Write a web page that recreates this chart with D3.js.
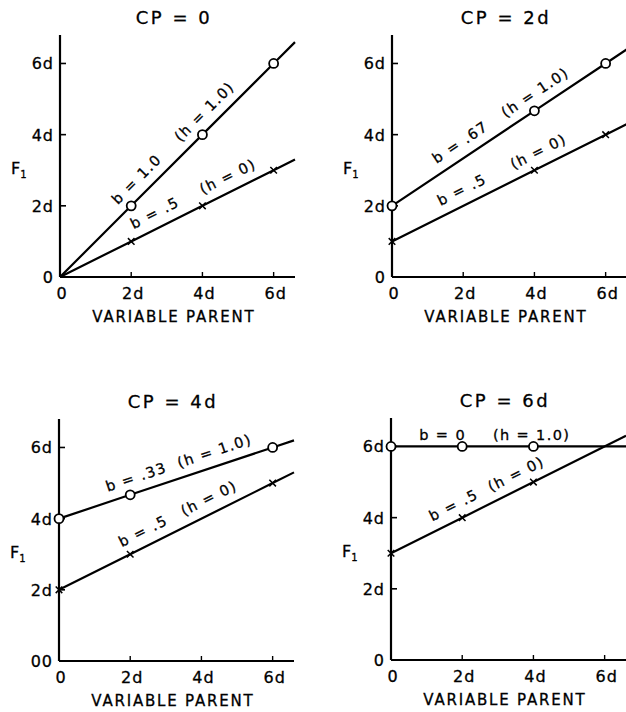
<!DOCTYPE html>
<html>
<head>
<meta charset="utf-8">
<script src="https://cdn.jsdelivr.net/npm/d3@7"></script>
<style>
  body { margin: 0; background: #fff; }
  text { font-family: "DejaVu Sans", sans-serif; fill: #000; stroke: #000; stroke-width: 0.3px; }
</style>
</head>
<body>
<div id="chart"></div>
<script>
// panel titles and the "CP" value of each panel
const titles = ["CP = 0", "CP = 2d", "CP = 4d", "CP = 6d"];
const xTicks = [0, 2, 4, 6];
const xTickLabels = ["0", "2d", "4d", "6d"];
const yTicks = [0, 2, 4, 6];
const yTickLabels = [["0", "2d", "4d", "6d"], ["0", "2d", "4d", "6d"], ["00", "2d", "4d", "6d"], ["0", "2d", "4d", "6d"]];

// line through the open circles (h = 1.0), [x, F1] in units of d
const hOneLines = [
  [[0, 0], [2, 2], [4, 4], [6, 6], [6.6, 6.6]],
  [[0, 2], [4, 4.67], [6, 6], [6.6, 6.4]],
  [[0, 4], [2, 4.67], [6, 6], [6.6, 6.2]],
  [[0, 6], [2, 6], [4, 6], [6.6, 6]]
];
// line through the crosses (h = 0)
const hZeroLines = [
  [[0, 0], [2, 1], [4, 2], [6, 3], [6.6, 3.3]],
  [[0, 1], [4, 3], [6, 4], [6.6, 4.3]],
  [[0, 2], [2, 3], [6, 5], [6.6, 5.3]],
  [[0, 3], [2, 4], [4, 5], [6.6, 6.3]]
];
// where the markers sit on each line
const circlePoints = [
  [[2, 2], [4, 4], [6, 6]],
  [[0, 2], [4, 4.67], [6, 6]],
  [[0, 4], [2, 4.67], [6, 6]],
  [[0, 6], [2, 6], [4, 6]]
];
const crossPoints = [
  [[2, 1], [4, 2], [6, 3]],
  [[0, 1], [4, 3], [6, 4]],
  [[0, 2], [2, 3], [6, 5]],
  [[0, 3], [2, 4], [4, 5]]
];
// line annotations
const hOneLabels = [["b = 1.0", "(h = 1.0)"], ["b = .67", "(h = 1.0)"], ["b = .33", "(h = 1.0)"], ["b = 0", "(h = 1.0)"]];
const hZeroLabels = [["b = .5", "(h = 0)"], ["b = .5", "(h = 0)"], ["b = .5", "(h = 0)"], ["b = .5", "(h = 0)"]];

// layout
const width = 626, height = 712;
const origins = [[60, 277], [392, 277], [59, 661], [391, 660]];
const plotW = 235, plotH = 242;
const xMax = 6.6, yMax = 6.8;
// label centres along the line (in x units)
const hOneLabelX = [[2.45, 4.35], [2.15, 4.25], [2.3, 4.5], [1.45, 3.95]];
const hZeroLabelX = [[2.85, 4.9], [2.15, 4.3], [2.55, 4.4], [1.95, 3.7]];

const svg = d3.select("#chart").append("svg")
  .attr("width", width)
  .attr("height", height);

const x = d3.scaleLinear().domain([0, xMax]).range([0, plotW]);
const y = d3.scaleLinear().domain([0, yMax]).range([plotH, 0]);

const line = d3.line().x(d => x(d[0])).y(d => y(d[1]));

// find F1 on a polyline at a given x
function valueAt(pts, xv) {
  for (let i = 1; i < pts.length; i++) {
    if (xv <= pts[i][0]) {
      const a = pts[i - 1], b = pts[i];
      return a[1] + (b[1] - a[1]) * (xv - a[0]) / (b[0] - a[0]);
    }
  }
  return pts[pts.length - 1][1];
}
function angleAt(pts, xv) {
  let i = 1;
  while (i < pts.length - 1 && xv > pts[i][0]) i++;
  const a = pts[i - 1], b = pts[i];
  return Math.atan2(y(b[1]) - y(a[1]), x(b[0]) - x(a[0])) * 180 / Math.PI;
}

titles.forEach((title, p) => {
  const [ox, oy] = origins[p];
  const g = svg.append("g")
    .attr("transform", `translate(${ox},${oy - plotH})`);

  // title
  g.append("text")
    .attr("x", x(3.2))
    .attr("y", -11)
    .attr("text-anchor", "middle")
    .attr("font-size", 18)
    .attr("letter-spacing", 2.5)
    .text(title);

  // axes
  g.append("line")
    .attr("x1", 0).attr("x2", 0)
    .attr("y1", y(0)).attr("y2", y(yMax))
    .attr("stroke", "#000").attr("stroke-width", 2.2);
  g.append("line")
    .attr("x1", 0).attr("x2", x(xMax))
    .attr("y1", y(0)).attr("y2", y(0))
    .attr("stroke", "#000").attr("stroke-width", 2.2);

  // y ticks point inward
  g.selectAll(".ytick")
    .data(yTicks.filter(v => v > 0))
    .enter().append("line")
    .attr("x1", 0).attr("x2", 6)
    .attr("y1", d => y(d)).attr("y2", d => y(d))
    .attr("stroke", "#000").attr("stroke-width", 1.6);
  g.selectAll(".ylab")
    .data(yTicks)
    .enter().append("text")
    .attr("x", -6)
    .attr("y", d => y(d) + 6)
    .attr("text-anchor", "end")
    .attr("font-size", 16)
    .attr("letter-spacing", 1)
    .text((d, i) => yTickLabels[p][i]);

  // x ticks point up
  g.selectAll(".xtick")
    .data(xTicks.filter(v => v > 0))
    .enter().append("line")
    .attr("x1", d => x(d)).attr("x2", d => x(d))
    .attr("y1", y(0)).attr("y2", y(0) - 5)
    .attr("stroke", "#000").attr("stroke-width", 1.4);
  g.selectAll(".xlab")
    .data(xTicks)
    .enter().append("text")
    .attr("x", d => x(d) + 2)
    .attr("y", y(0) + 22)
    .attr("text-anchor", "middle")
    .attr("font-size", 16)
    .attr("letter-spacing", 1)
    .text((d, i) => xTickLabels[i]);

  g.append("text")
    .attr("x", x(3.2))
    .attr("y", y(0) + 45)
    .attr("text-anchor", "middle")
    .attr("font-size", 15)
    .attr("letter-spacing", 1.8)
    .text("VARIABLE PARENT");

  // F1 axis label
  const fl = g.append("text")
    .attr("x", -49)
    .attr("y", y(0) - 103)
    .attr("font-size", 16);
  fl.append("tspan").text("F");
  fl.append("tspan").attr("font-size", 10).attr("dy", 4).text("1");

  // data lines
  [hOneLines[p], hZeroLines[p]].forEach(pts => {
    g.append("path")
      .attr("d", line(pts))
      .attr("fill", "none")
      .attr("stroke", "#000")
      .attr("stroke-width", 2.2);
  });

  // crosses
  g.selectAll(".cross")
    .data(crossPoints[p])
    .enter().append("path")
    .attr("d", d3.symbol(d3.symbolTimes, 30))
    .attr("transform", d => `translate(${x(d[0])},${y(d[1])})`)
    .attr("fill", "none")
    .attr("stroke", "#000")
    .attr("stroke-width", 1.5);

  // open circles
  g.selectAll(".circ")
    .data(circlePoints[p])
    .enter().append("circle")
    .attr("cx", d => x(d[0]))
    .attr("cy", d => y(d[1]))
    .attr("r", 4.5)
    .attr("fill", "#fff")
    .attr("stroke", "#000")
    .attr("stroke-width", 1.8);

  // annotations along the lines
  const annotate = (pts, texts, xs, off) => {
    texts.forEach((t, i) => {
      const xv = xs[i];
      const px = x(xv), py = y(valueAt(pts, xv));
      const ang = angleAt(pts, xv);
      g.append("text")
        .attr("transform", `translate(${px},${py}) rotate(${ang})`)
        .attr("y", off)
        .attr("text-anchor", "middle")
        .attr("font-size", 14.5)
        .attr("letter-spacing", 1.4)
        .text(t);
    });
  };
  annotate(hOneLines[p], hOneLabels[p], hOneLabelX[p], p === 3 ? -6 : -10);
  annotate(hZeroLines[p], hZeroLabels[p], hZeroLabelX[p], -10);
});
</script>
</body>
</html>
